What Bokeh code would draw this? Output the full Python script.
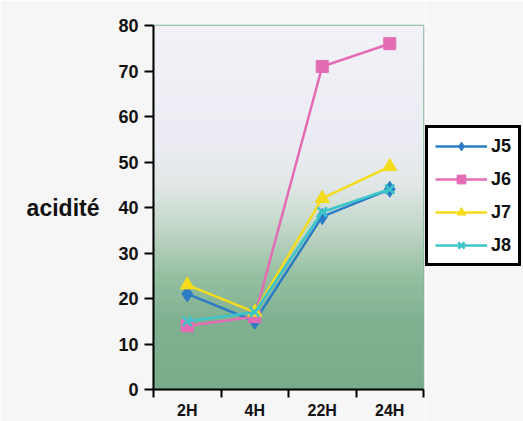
import numpy as np
from bokeh.plotting import figure
from bokeh.layouts import row
from bokeh.models import Range1d, FixedTicker, Legend, LegendItem
from bokeh.embed import file_html
from bokeh.resources import INLINE

# ---- data ----
categories = ["2H", "4H", "22H", "24H"]
j5 = [21, 15, 38, 44]
j6 = [14, 16, 71, 76]
j7 = [23, 17, 42, 49]
j8 = [15, 17, 39, 44]
y_ticks = [0, 10, 20, 30, 40, 50, 60, 70, 80]

xpos = [i + 0.5 for i in range(len(categories))]
BG = "#f6f6f6"

p = figure(width=425, height=421, output_backend="svg", toolbar_location=None,
           x_range=Range1d(0, len(categories)), y_range=Range1d(0, 80),
           min_border_left=153, min_border_right=2, min_border_top=25,
           min_border_bottom=29)
p.border_fill_color = BG
p.background_fill_color = BG
p.outline_line_color = "#7fb89a"
p.outline_line_width = 1.5
p.grid.visible = False

# gradient background (style only)
n = 200
yy = np.linspace(0, 80, n)
stops_y = [0, 15, 25, 35, 45, 55, 80]
stops_r = [122, 128, 150, 192, 226, 236, 242]
stops_g = [172, 178, 192, 214, 232, 237, 242]
stops_b = [140, 146, 162, 198, 232, 244, 248]
r = np.interp(yy, stops_y, stops_r).astype(np.uint32)
g = np.interp(yy, stops_y, stops_g).astype(np.uint32)
b = np.interp(yy, stops_y, stops_b).astype(np.uint32)
img = (255 << 24) | (b << 16) | (g << 8) | r
img = img.reshape(n, 1).astype(np.uint32)
p.image_rgba(image=[img], x=0, y=0, dw=len(categories), dh=80)

# legend panel figure
p2 = figure(width=98, height=421, output_backend="svg", toolbar_location=None,
            x_range=Range1d(0, 1), y_range=Range1d(0, 1),
            min_border_left=0, min_border_right=0, min_border_top=0, min_border_bottom=0)
p2.axis.visible = False
p2.grid.visible = False
p2.outline_line_color = None
p2.border_fill_color = BG
p2.background_fill_color = BG

series = [
    ("J5", j5, "#2b7cc4", "diamond", 16),
    ("J6", j6, "#e46cb4", "square", 12),
    ("J7", j7, "#f4dc1c", "triangle", 14),
    ("J8", j8, "#3cc4c8", "x", 13),
]
nan = [float("nan")]
items = []
for name, vals, col, mk, sz in series:
    for fig, xs, ys in ((p, xpos, vals), (p2, nan, nan)):
        ln = fig.line(xs, ys, line_color=col, line_width=2.5)
        if mk == "x":
            sc = fig.scatter(xs, ys, marker=mk, size=sz, line_color=col, line_width=2.5)
        else:
            sc = fig.scatter(xs, ys, marker=mk, size=sz, fill_color=col, line_color=col)
    items.append(LegendItem(label=name, renderers=[ln, sc]))

legend = Legend(items=items, location=(0, 123))
legend.glyph_width = 52
legend.glyph_height = 22
legend.label_standoff = 4
legend.spacing = 11
legend.padding = 7
legend.margin = 0
legend.label_text_font = "Liberation Sans"
legend.label_text_font_style = "bold"
legend.label_text_font_size = "18px"
legend.label_text_color = "#111111"
legend.border_line_color = "black"
legend.border_line_alpha = 1
legend.border_line_width = 3
legend.background_fill_color = "white"
legend.background_fill_alpha = 1
p2.add_layout(legend, "center")

# axes
p.xaxis.ticker = FixedTicker(ticks=xpos, minor_ticks=list(range(len(categories) + 1)))
p.xaxis.major_label_overrides = {x: c for x, c in zip(xpos, categories)}
p.xaxis.major_tick_out = 0
p.xaxis.major_tick_in = 0
p.xaxis.minor_tick_out = 8
p.xaxis.minor_tick_in = 0
p.xaxis.minor_tick_line_width = 2
p.xaxis.minor_tick_line_color = "black"
p.xaxis.major_label_standoff = 4
p.yaxis.ticker = FixedTicker(ticks=y_ticks)
p.yaxis.major_tick_out = 9
p.yaxis.major_tick_in = 0
p.yaxis.major_tick_line_width = 2
p.yaxis.minor_tick_line_color = None
p.yaxis.major_label_standoff = 6
p.yaxis.axis_label = "acidité"
p.yaxis.axis_label_orientation = "horizontal"
p.yaxis.axis_label_standoff = 16
p.yaxis.axis_label_text_font = "Liberation Sans"
p.yaxis.axis_label_text_font_style = "bold"
p.yaxis.axis_label_text_font_size = "23px"
p.yaxis.axis_label_text_color = "#111111"
for ax in (p.xaxis, p.yaxis):
    ax.axis_line_width = 2
    ax.axis_line_color = "black"
    ax.major_tick_line_color = "black"
    ax.major_label_text_font = "Liberation Sans"
    ax.major_label_text_font_style = "bold"
    ax.major_label_text_font_size = "18px"
    ax.major_label_text_color = "#111111"
p.xaxis.major_label_text_font_size = "16px"

layout = row(p, p2, spacing=0)
open("out.html", "w").write(file_html(layout, INLINE))
